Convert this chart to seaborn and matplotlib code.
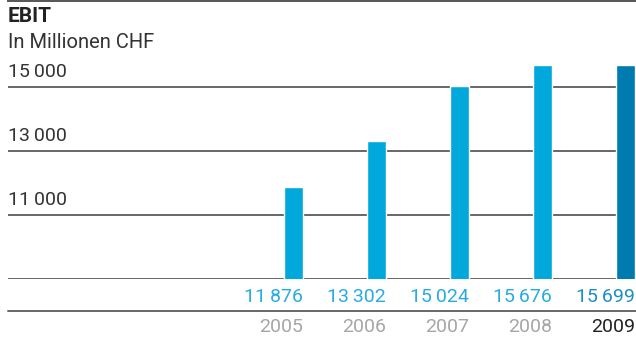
import matplotlib
matplotlib.use("Agg")
import matplotlib.pyplot as plt
import seaborn as sns
import pandas as pd

# Daten
jahre = ["2005", "2006", "2007", "2008", "2009"]
ebit = [11876, 13302, 15024, 15676, 15699]
wert_labels = ["11\u2009876", "13\u2009302", "15\u2009024", "15\u2009676", "15\u2009699"]
y_ticks = [11000, 13000, 15000]
y_tick_labels = ["11\u2009000", "13\u2009000", "15\u2009000"]

sns.set_style("white")
plt.rcParams["font.family"] = ["Roboto", "DejaVu Sans"]

df = pd.DataFrame({"jahr": jahre, "ebit": ebit})
farben = ["#00a8dc", "#00a8dc", "#00a8dc", "#00a8dc", "#007bb0"]

W, H = 636, 341
fig = plt.figure(figsize=(W / 100, H / 100), dpi=100)
ax = fig.add_axes([8 / W, 62 / H, 1 - 8 / W, 278 / H])

breite = 19 / 83
sns.barplot(data=df, x="jahr", y="ebit", hue="jahr", palette=farben,
            width=breite, legend=False, ax=ax, saturation=1)

ax.set_ylim(9000, 17687.5)
ax.set_xlim(-(293.5 - 8) / 83, 4 + (636 - 625.5) / 83)

# Gitterlinien
for v in [9000] + y_ticks:
    ax.axhline(v, color="#666666", lw=1.4, zorder=0)
for v, lab in zip(y_ticks, y_tick_labels):
    ax.annotate(lab, xy=(0, v), xycoords=("axes fraction", "data"),
                xytext=(0, 4), textcoords="offset points",
                ha="left", va="bottom", fontsize=14, color="#333333")

ax.set_xticks([])
ax.set_yticks([])
ax.set_xlabel("")
ax.set_ylabel("")
for s in ["left", "right", "bottom"]:
    ax.spines[s].set_visible(False)
ax.spines["top"].set_color("#555555")
ax.spines["top"].set_linewidth(1.4)

# Wertelabels und Jahre
wert_farben = ["#29abe2"] * 4 + ["#1c8fc4"]
jahr_farben = ["#a6a6a6"] * 4 + ["#222222"]
for i, (lab, j) in enumerate(zip(wert_labels, jahre)):
    x = i + breite / 2
    ax.annotate(lab, xy=(x, 44 / H), xycoords=("data", "figure fraction"),
                ha="right", va="center", fontsize=14, color=wert_farben[i])
    ax.annotate(j, xy=(x, 14 / H), xycoords=("data", "figure fraction"),
                ha="right", va="center", fontsize=14, color=jahr_farben[i])

fig.add_artist(plt.Line2D([8 / W, 1], [30 / H, 30 / H], color="#666666", lw=1.4))

fig.text(8 / W, 1 - 17 / H, "EBIT", ha="left", va="center", fontsize=15,
         fontweight="bold", color="#222222")
fig.text(8 / W, 1 - 42 / H, "In Millionen CHF", ha="left", va="center", fontsize=14.5,
         color="#333333")

fig.savefig("out.png", dpi=100)
